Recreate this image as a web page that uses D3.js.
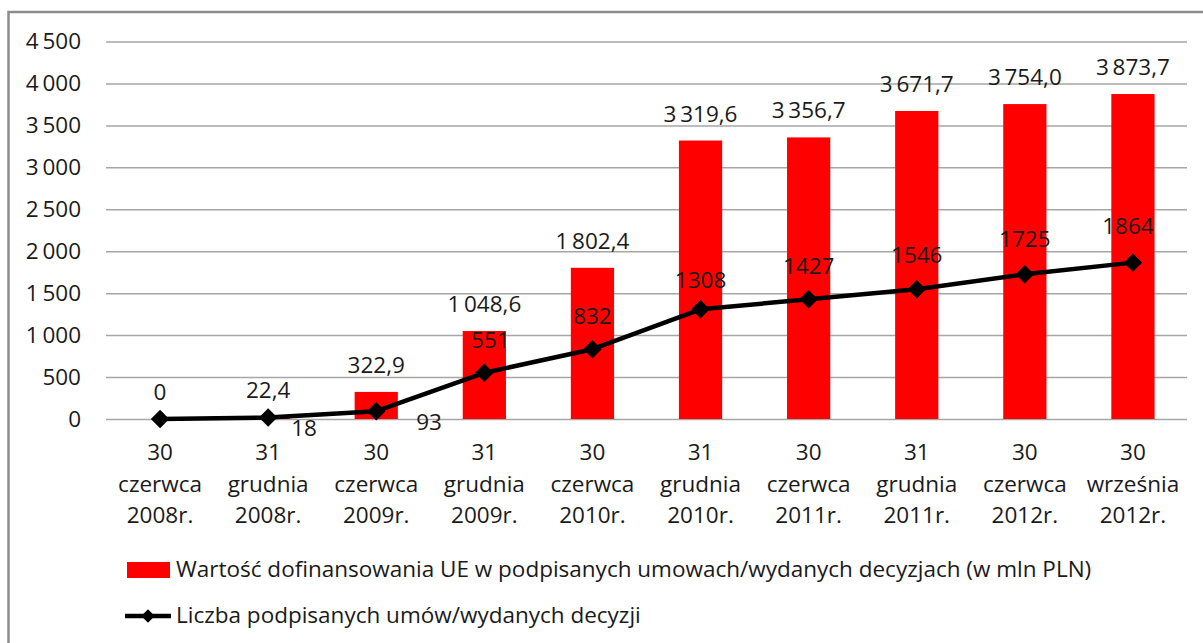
<!DOCTYPE html>
<html>
<head>
<meta charset="utf-8">
<script src="https://cdn.jsdelivr.net/npm/d3@7"></script>
<style>
  html, body { margin: 0; padding: 0; background: #fff; }
  svg { display: block; }
  text { font-family: "Open Sans", "Noto Sans", sans-serif; fill: #1a1a1a; }
</style>
</head>
<body>
<svg id="chart" width="1203" height="643"></svg>
<script>
// ---- data ----
const categories = [
  ["30", "czerwca", "2008r."],
  ["31", "grudnia", "2008r."],
  ["30", "czerwca", "2009r."],
  ["31", "grudnia", "2009r."],
  ["30", "czerwca", "2010r."],
  ["31", "grudnia", "2010r."],
  ["30", "czerwca", "2011r."],
  ["31", "grudnia", "2011r."],
  ["30", "czerwca", "2012r."],
  ["30", "września", "2012r."]
];
const barValues = [0, 22.4, 322.9, 1048.6, 1802.4, 3319.6, 3356.7, 3671.7, 3754.0, 3873.7];
const lineValues = [0, 18, 93, 551, 832, 1308, 1427, 1546, 1725, 1864];
const yTicks = [0, 500, 1000, 1500, 2000, 2500, 3000, 3500, 4000, 4500];
const barSeriesName = "Wartość dofinansowania UE w podpisanych umowach/wydanych decyzjach (w mln PLN)";
const lineSeriesName = "Liczba podpisanych umów/wydanych decyzji";

// ---- layout ----
const svg = d3.select("#chart");
const plot = { left: 106, right: 1187, top: 41.5, bottom: 419 };
const FS = 22.5;

const pl = d3.formatLocale({ decimal: ",", thousands: "\u2009", grouping: [3], currency: ["", ""] });
const fmtTick = pl.format(",d");
const fmtBar = v => v === 0 ? "0" : pl.format(",.1f")(v);
const fmtLine = d3.format("d");

const idx = d3.range(categories.length);
const x = d3.scaleBand().domain(idx).range([plot.left, plot.right]).paddingInner(0.6).paddingOuter(0.3);
const cx = i => x(i) + x.bandwidth() / 2;
const y = d3.scaleLinear().domain([0, 4500]).range([plot.bottom, plot.top]);

// outer frame
svg.append("rect").attr("x", 8.5).attr("y", 12).attr("width", 1300).attr("height", 800)
  .attr("fill", "none").attr("stroke", "#8c8c8c").attr("stroke-width", 2.5);

// gridlines + y axis
const yAxis = d3.axisLeft(y).tickValues(yTicks).tickFormat(fmtTick).tickSize(0).tickPadding(0);
const gy = svg.append("g").attr("transform", `translate(${plot.left},0)`).call(yAxis);
gy.select(".domain").remove();
gy.selectAll(".tick line").attr("x2", plot.right - plot.left).attr("stroke", "#a6a6a6").attr("stroke-width", 1.5);
gy.selectAll(".tick text").attr("x", 81 - plot.left).attr("font-size", FS)
  .attr("font-family", "'Open Sans', sans-serif").attr("fill", "#1a1a1a");

// bars
svg.append("g").selectAll("rect").data(barValues).join("rect")
  .attr("x", (d, i) => x(i)).attr("width", x.bandwidth())
  .attr("y", d => y(d)).attr("height", d => y(0) - y(d))
  .attr("fill", "#ff0000");

// x labels
const xl = svg.append("g");
categories.forEach((lines, i) => {
  const t = xl.append("text").attr("text-anchor", "middle").attr("font-size", FS);
  lines.forEach((s, k) => {
    t.append("tspan").attr("x", cx(i)).attr("y", 460 + k * 31.5).text(s);
  });
});

// line
const line = d3.line().x((d, i) => cx(i)).y(d => y(d));
svg.append("path").datum(lineValues).attr("d", line)
  .attr("fill", "none").attr("stroke", "#000").attr("stroke-width", 4.5).attr("stroke-linejoin", "round");
const diamond = d3.symbol().type(d3.symbolSquare).size(170);
svg.append("g").selectAll("path").data(lineValues).join("path")
  .attr("d", diamond)
  .attr("transform", (d, i) => `translate(${cx(i)},${y(d)}) rotate(45)`)
  .attr("fill", "#000");

// bar value labels
svg.append("g").selectAll("text").data(barValues).join("text")
  .attr("x", (d, i) => cx(i)).attr("y", d => y(d) - 19)
  .attr("text-anchor", "middle").attr("font-size", FS)
  .text(fmtBar);

// line value labels (placement per point as in the original)
const lineLabelPlace = [
  { dx: 0, dy: -25, anchor: "middle" },
  { dx: 23, dy: 19, anchor: "start" },
  { dx: 40, dy: 19, anchor: "start" },
  { dx: 6, dy: -25, anchor: "middle" },
  { dx: 0, dy: -25, anchor: "middle" },
  { dx: 0, dy: -21, anchor: "middle" },
  { dx: 0, dy: -25, anchor: "middle" },
  { dx: 0, dy: -26, anchor: "middle" },
  { dx: 0, dy: -27, anchor: "middle" },
  { dx: -5, dy: -29, anchor: "middle" }
];
svg.append("g").selectAll("text").data(lineValues).join("text")
  .attr("x", (d, i) => cx(i) + lineLabelPlace[i].dx)
  .attr("y", (d, i) => y(d) + lineLabelPlace[i].dy)
  .attr("text-anchor", (d, i) => lineLabelPlace[i].anchor)
  .attr("font-size", FS)
  .text((d, i) => i === 0 ? "" : fmtLine(d));

// legend
const lg = svg.append("g");
lg.append("rect").attr("x", 127).attr("y", 562).attr("width", 43).attr("height", 16).attr("fill", "#ff0000");
lg.append("text").attr("x", 176).attr("y", 577).attr("font-size", FS).text(barSeriesName);
lg.append("line").attr("x1", 125).attr("x2", 171).attr("y1", 616).attr("y2", 616)
  .attr("stroke", "#000").attr("stroke-width", 4.5);
lg.append("path").attr("d", d3.symbol().type(d3.symbolSquare).size(90))
  .attr("transform", "translate(148,616) rotate(45)").attr("fill", "#000");
lg.append("text").attr("x", 176).attr("y", 623).attr("font-size", FS).text(lineSeriesName);
</script>
</body>
</html>
